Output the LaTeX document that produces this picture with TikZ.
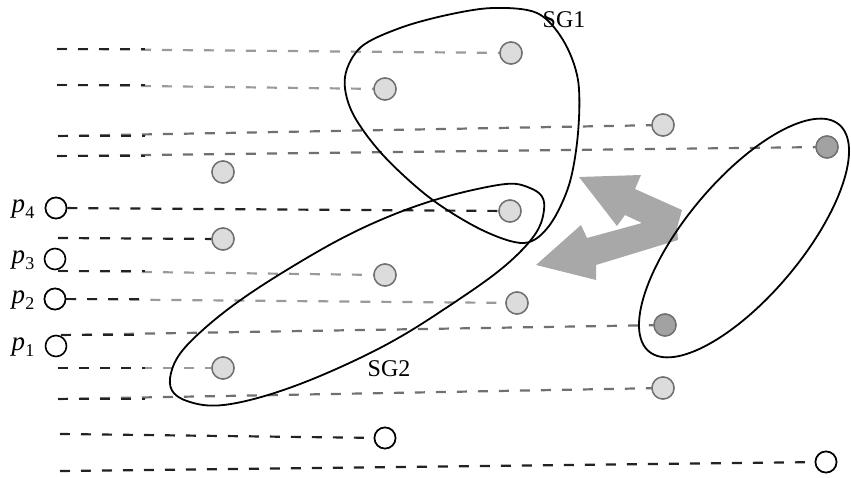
\documentclass[tikz,border=0pt]{standalone}
\usepackage{fontspec}
\setmainfont{Liberation Serif}
\usetikzlibrary{calc}
\definecolor{ltfill}{HTML}{DCDCDC}
\definecolor{ltedge}{HTML}{707070}
\definecolor{dkfill}{HTML}{A2A2A2}
\definecolor{lgline}{HTML}{9A9A9A}
\definecolor{mgline}{HTML}{707070}
\definecolor{bkline}{HTML}{222222}
\definecolor{arrowgray}{HTML}{A8A8A8}
\tikzset{
  lt/.style={circle, minimum size=22pt, inner sep=0pt, draw=ltedge, fill=ltfill, line width=1.4pt},
  dk/.style={circle, minimum size=22pt, inner sep=0pt, draw=ltedge, fill=dkfill, line width=1.4pt},
  wt/.style={circle, minimum width=20pt, minimum height=21pt, inner sep=0pt, draw=black, fill=white, line width=1.6pt},
  dl/.style={dash pattern=on 10pt off 11pt, line width=2.2pt},
  outline/.style={draw=black, line width=1.8pt},
  lbl/.style={font=\fontsize{24}{28}\selectfont, inner sep=0pt},
}
\newcommand{\plab}[1]{\fontsize{27}{30}\selectfont\textit{p}\raisebox{-6pt}{\fontsize{18}{18}\selectfont #1}}
\begin{document}
\begin{tikzpicture}[x=1pt,y=-1pt]
\useasboundingbox (0,0) rectangle (851,478);
% circles (nodes)
\node[lt] (c1) at (511,53) {};
\node[lt] (c2) at (385,89) {};
\node[lt] (c3) at (663,125) {};
\node[dk] (c4) at (827,147) {};
\node[lt] (c5) at (223,172) {};
\node[lt] (c6) at (510,211) {};
\node[lt] (c7) at (223,239) {};
\node[lt] (c8) at (385,275) {};
\node[lt] (c9) at (517,303) {};
\node[dk] (c10) at (665,325) {};
\node[lt] (c11) at (223,368) {};
\node[lt] (c12) at (663,388) {};
\node[wt] (c13) at (385,438) {};
\node[wt] (c14) at (826,462) {};
\node[wt] (p4) at (56,208) {};
\node[wt] (p3) at (55,259) {};
\node[wt] (p2) at (55,299) {};
\node[wt] (p1) at (56,346) {};
\node[lbl] (l4) at (23,209) {\plab{4}};
\node[lbl] (l3) at (23,260) {\plab{3}};
\node[lbl] (l2) at (23,300) {\plab{2}};
\node[lbl] (l1) at (23,347) {\plab{1}};
% line start coordinates
\coordinate (bx) at (145,0);
\coordinate (s1) at (57,49);
\coordinate (s2) at (57,85);
\coordinate (s3) at (58,136);
\coordinate (s4) at (57,156);
\coordinate (s7) at (58,238);
\coordinate (s8) at (58,271);
\coordinate (s10) at (61,335);
\coordinate (s11) at (58,368);
\coordinate (s12) at (58,399);
\coordinate (s13) at (60,434);
\coordinate (s14) at (60,471);
% dashed lines
\draw[dl, lgline] (s1) -- (c1);
\draw[dl, bkline] (s1) -- (s1 -| bx);
\draw[dl, lgline] (s2) -- (c2);
\draw[dl, bkline] (s2) -- (s2 -| bx);
\draw[dl, mgline] (s3) -- (c3);
\draw[dl, bkline] (s3) -- (s3 -| bx);
\draw[dl, mgline] (s4) -- (c4);
\draw[dl, bkline] (s4) -- (s4 -| bx);
\draw[dl, bkline] (p4) -- (c6);
\draw[dl, bkline] (s7) -- (c7);
\draw[dl, lgline] (s8) -- (c8);
\draw[dl, bkline] (s8) -- (s8 -| bx);
\draw[dl, lgline] (p2) -- (c9);
\draw[dl, bkline] (p2.east) -- (p2.east -| bx);
\draw[dl, mgline] (s10) -- (c10);
\draw[dl, bkline] (s10) -- (s10 -| bx);
\draw[dl, lgline] (s11) -- (c11);
\draw[dl, bkline] (s11) -- (s11 -| bx);
\draw[dl, mgline] (s12) -- (c12);
\draw[dl, bkline] (s12) -- (s12 -| bx);
\draw[dl, bkline] (s13) -- (c13);
\draw[dl, bkline] (s14) -- (c14);
% redraw circles on top
\foreach \x/\y in {511/53,385/89,663/125,223/172,510/211,223/239,385/275,517/303,223/368,663/388}
  \node[lt] at (\x,\y) {};
\foreach \x/\y in {827/147,665/325}
  \node[dk] at (\x,\y) {};
\foreach \x/\y in {385/438,826/462,56/208,55/299}
  \node[wt] at (\x,\y) {};
% double arrow
\fill[arrowgray] (579,177) -- (641,175) -- (635,189) -- (682,210) -- (677,228) -- (678,240)
  -- (596,265) -- (596,280) -- (536,265) -- (581,225) -- (587,238) -- (642,223)
  -- (625,215) -- (617,226) -- cycle;
% SG1
\draw[outline] plot[smooth cycle, tension=0.55] coordinates {
  (493,8) (537,13) (563,40) (578,80) (578,133) (569,185) (549,226) (524,243)
  (482,230) (430,198) (382,154) (352,112) (345,77) (361,47) (400,28) (447,15)};
% SG2
\draw[outline] plot[smooth cycle, tension=0.7] coordinates {
  (487,187) (530,188) (544,210) (522,250) (455,302) (360,358) (250,400)
  (187,401) (171,373) (205,328) (290,268) (390,216)};
% right ellipse
\draw[outline, shift={(744,238)}, rotate=50] (0,0) ellipse [x radius=148pt, y radius=58pt];
% labels
\node[lbl] (sg1) at (564,20) {SG1};
\node[lbl] (sg2) at (389,369) {SG2};
\end{tikzpicture}
\end{document}
